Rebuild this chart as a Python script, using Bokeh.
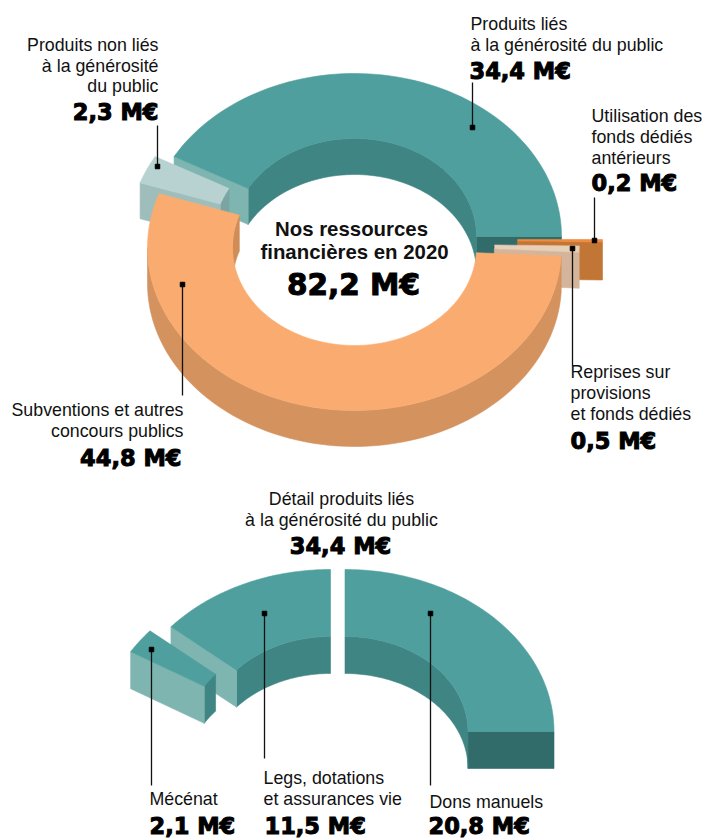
import numpy as np
from bokeh.plotting import figure
from bokeh.models import Range1d
from bokeh.core.properties import value
from bokeh.embed import file_html
from bokeh.resources import INLINE

# ---- data ----
total = 82.2
resources = ["Produits liés à la générosité du public", "Produits non liés à la générosité du public",
             "Subventions et autres concours publics", "Reprises sur provisions et fonds dédiés",
             "Utilisation des fonds dédiés antérieurs"]
resource_values = [34.4, 2.3, 44.8, 0.5, 0.2]
detail = ["Dons manuels", "Legs, dotations et assurances vie", "Mécénat"]
detail_values = [20.8, 11.5, 2.1]

# ---- layout ----
W, H = 706, 838
p = figure(width=W, height=H, x_range=Range1d(0, W), y_range=Range1d(H, 0),
           output_backend="svg", toolbar_location=None, min_border=0)
p.axis.visible = False
p.grid.visible = False
p.outline_line_color = None
p.background_fill_color = "white"
p.border_fill_color = "white"

TEAL = dict(top="#4f9f9e", wall="#3f8583", face="#7fb5b0", end="#316c6b")
PALE = dict(top="#b7d2d1", wall="#7aa5a2", face="#9fbdbb")
ORANGE = dict(top="#faac70", wall="#d4925f", inner="#d08d57")


def arc(c, rx, ry, a0, a1, dz=0, n=80):
    t = np.radians(np.linspace(a0, a1, n))
    return c[0] + rx * np.cos(t), c[1] - ry * np.sin(t) + dz


def poly(x, y, color):
    p.patch(list(x), list(y), fill_color=color, line_color=color, line_width=0.6)


def top(c, g, a0, a1, color):
    xo, yo = arc(c, g[0], g[1], a0, a1)
    xi, yi = arc(c, g[2], g[3], a1, a0)
    poly(np.r_[xo, xi], np.r_[yo, yi], color)


def ring_wall(c, rx, ry, depth, a0, a1, color):
    xa, ya = arc(c, rx, ry, a0, a1)
    xb, yb = arc(c, rx, ry, a1, a0, depth)
    poly(np.r_[xa, xb], np.r_[ya, yb], color)


def end_face(c, g, depth, a, color):
    xo, yo = arc(c, g[0], g[1], a, a, n=1)
    xi, yi = arc(c, g[2], g[3], a, a, n=1)
    poly([xo[0], xi[0], xi[0], xo[0]], [yo[0], yi[0], yi[0] + depth, yo[0] + depth], color)


def fmt(v):
    return f"{v:.1f}".replace(".", ",") + " M€"


def label(x, y, text, align="left", size=17.8, bold=False, font="Liberation Sans"):
    p.text([x], [y], text=[text], text_align=align, text_baseline="middle",
           text_font=value(font), text_font_size=f"{size}px",
           text_font_style="bold" if bold else "normal", text_color="#111111")


def figure_value(x, y, v, align="left", size=22.5):
    p.text([x], [y], text=[fmt(v)], text_align=align,
           text_baseline="middle", text_font=value("DejaVu Sans"),
           text_font_size=f"{size}px", text_font_style="bold", text_color="#000000",
           text_outline_color="#000000")


def connector(x, y0, y1):
    p.line([x, x], [y0, y1], line_color="#111111", line_width=1.3)
    p.scatter([x], [y0], marker="square", size=4.5, fill_color="#000000", line_color="#000000")


# ---- upper ring ----
deg = 360 / total
G1 = (207, 163, 122, 98)
D1 = 36
liés, non_liés, subv, repr_, util = [v * deg for v in resource_values]
a_teal = liés
a_pale = a_teal + non_liés
a_or = a_pale + subv
a_beige = a_or + repr_
c_teal, c_pale, c_or, c_beige, c_util = (354, 236), (335, 236), (354, 247), (372, 243), (395, 239)

end_face(c_teal, G1, D1, 0, TEAL["end"])
ring_wall(c_teal, G1[2], G1[3], D1, 0, a_teal, TEAL["wall"])
end_face(c_teal, G1, D1, a_teal, TEAL["face"])
top(c_teal, G1, 0, a_teal, TEAL["top"])

end_face(c_util, G1, D1 + 2, a_beige, "#c27636")
top(c_util, G1, a_beige, 360, "#f08a3c")
end_face(c_beige, G1, D1, a_or, "#d4b59c")
top(c_beige, G1, a_or, a_beige, "#e8cfb8")

ring_wall(c_pale, G1[2], G1[3], D1, a_teal, a_pale, PALE["wall"])
end_face(c_pale, G1, D1, a_pale, PALE["face"])
top(c_pale, G1, a_teal, a_pale, PALE["top"])

ring_wall(c_or, G1[0], G1[1], D1, 180, a_or, ORANGE["wall"])
ring_wall(c_or, G1[2], G1[3], D1, a_pale, 180, ORANGE["inner"])
top(c_or, G1, a_pale, a_or, ORANGE["top"])

# ---- lower ring ----
G2 = (209, 162, 123, 95)
D2 = 37
deg2 = 90 / detail_values[0]
dons, legs, mec = [v * deg2 for v in detail_values]
c_dons, c_legs, c_mec = (344.5, 731), (330, 731), (309, 735)

end_face(c_dons, G2, D2, 0, TEAL["end"])
ring_wall(c_dons, G2[2], G2[3], D2, 0, dons, TEAL["wall"])
top(c_dons, G2, 0, dons, TEAL["top"])

ring_wall(c_legs, G2[2], G2[3], D2, dons, dons + legs, TEAL["wall"])
end_face(c_legs, G2, D2, dons + legs, TEAL["face"])
top(c_legs, G2, dons, dons + legs, TEAL["top"])

ring_wall(c_mec, G2[2], G2[3], D2, dons + legs, dons + legs + mec, TEAL["wall"])
end_face(c_mec, G2, D2, dons + legs + mec, TEAL["face"])
top(c_mec, G2, dons + legs, dons + legs + mec, TEAL["top"])

# ---- connectors ----
for x, y0, y1 in [(472, 127, 82), (157, 166, 125), (594, 240, 197), (572, 248, 365), (182, 284, 395),
                  (151, 649, 785), (264, 613, 758), (430, 613, 785)]:
    connector(x, y0, y1)

# ---- labels ----
label(158, 44, "Produits non liés", "right")
label(158, 65, "à la générosité", "right")
label(158, 85, "du public", "right")
figure_value(158, 111, resource_values[1], "right")

label(470, 23, "Produits liés")
label(470, 44, "à la générosité du public")
figure_value(469, 70, resource_values[0])

label(591, 115, "Utilisation des")
label(591, 136, "fonds dédiés")
label(591, 157, "antérieurs")
figure_value(591, 182, resource_values[4])

label(570, 371, "Reprises sur")
label(570, 392, "provisions")
label(570, 413, "et fonds dédiés")
figure_value(570, 440, resource_values[3])

label(183, 409, "Subventions et autres", "right")
label(183, 430, "concours publics", "right")
figure_value(181, 457, resource_values[2], "right")

label(351, 228, "Nos ressources", "center", 20.4, True)
label(354, 251, "financières en 2020", "center", 20.4, True)
figure_value(353, 284, total, "center", 29.5)

label(341, 498, "Détail produits liés", "center")
label(341, 519, "à la générosité du public", "center")
figure_value(340, 545, sum(detail_values), "center")

label(149, 798, "Mécénat")
figure_value(149, 825, detail_values[2])
label(263, 777, "Legs, dotations")
label(263, 798, "et assurances vie")
figure_value(264, 825, detail_values[1])
label(429, 801, "Dons manuels")
figure_value(428, 825.5, detail_values[0])

open("out.html", "w").write(file_html(p, INLINE))
